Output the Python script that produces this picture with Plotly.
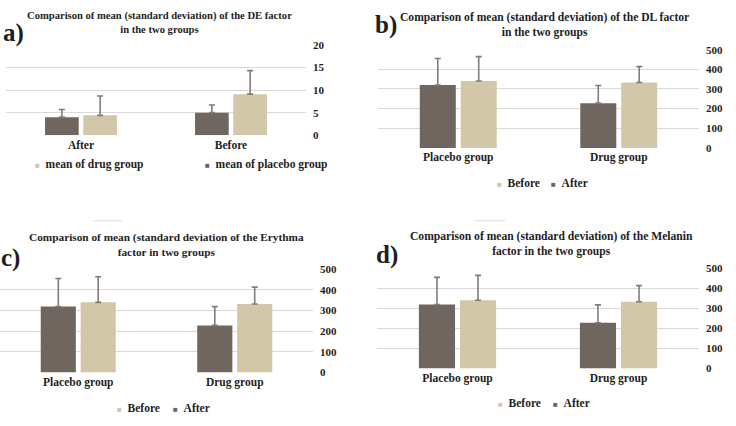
import plotly.graph_objects as go

W, H = 736, 426

# ---------------- data ----------------
de_categories = ["After", "Before"]
de_placebo_mean = [4.0, 5.0]
de_placebo_sd = [1.7, 1.7]
de_drug_mean = [4.4, 9.1]
de_drug_sd = [4.3, 5.2]
de_series_names = ["mean of placebo group", "mean of drug group"]

group_categories = ["Placebo group", "Drug group"]
series_names = ["After", "Before"]

dl_after_mean = [320, 228]
dl_after_sd = [135, 90]
dl_before_mean = [341, 333]
dl_before_sd = [124, 81]

ery_after_mean = [320, 228]
ery_after_sd = [136, 91]
ery_before_mean = [340, 332]
ery_before_sd = [124, 82]

mel_after_mean = [320, 228]
mel_after_sd = [135, 90]
mel_before_mean = [341, 333]
mel_before_sd = [124, 81]

de_ticks = [0, 5, 10, 15, 20]
big_ticks = [0, 100, 200, 300, 400, 500]

titles = [
    "Comparison of mean (standard deviation) of the DE factor<br>in the two groups",
    "Comparison of mean (standard deviation) of the DL factor<br>in the two groups",
    "Comparison of mean (standard deviation of the Erythma<br>factor in two groups",
    "Comparison of mean (standard deviation) of the Melanin<br>factor in the two groups",
]
letters = ["a)", "b)", "c)", "d)"]

# ---------------- style ----------------
DARK = "#6f665f"
LIGHT = "#d2c7a9"
ERR = "#857b74"
TXT = "#1e1e1e"
GRID = "#d9d9d9"
FONT = "Liberation Serif"


def px(x):
    return x / W


def py(y):
    return 1 - y / H


fig = go.Figure()


def add_bars(ax, cats, m1, s1, n1, c1, m2, s2, n2, c2):
    xa = "x" if ax == 1 else f"x{ax}"
    ya = "y" if ax == 1 else f"y{ax}"
    for m, s, n, c in [(m1, s1, n1, c1), (m2, s2, n2, c2)]:
        fig.add_trace(go.Bar(
            x=cats, y=m, name=n, marker_color=c, marker_line_width=0,
            error_y=dict(type="data", symmetric=False, array=s,
                         arrayminus=[0] * len(s), color=ERR,
                         thickness=1.6, width=3),
            xaxis=xa, yaxis=ya, showlegend=False,
        ))


add_bars(1, de_categories, de_placebo_mean, de_placebo_sd, de_series_names[0], DARK,
         de_drug_mean, de_drug_sd, de_series_names[1], LIGHT)
add_bars(2, group_categories, dl_after_mean, dl_after_sd, series_names[0], DARK,
         dl_before_mean, dl_before_sd, series_names[1], LIGHT)
add_bars(3, group_categories, ery_after_mean, ery_after_sd, series_names[0], DARK,
         ery_before_mean, ery_before_sd, series_names[1], LIGHT)
add_bars(4, group_categories, mel_after_mean, mel_after_sd, series_names[0], DARK,
         mel_before_mean, mel_before_sd, series_names[1], LIGHT)

# panel geometry (pixels): x0, x1, ytop, ybottom
panels = [
    (6, 306, 40, 133),
    (378, 699, 45, 146),
    (0, 313, 271, 377),
    (377, 699, 270, 373),
]
ranges = [[0, 20], [0, 500], [0, 500], [0, 500]]
tickv = [de_ticks, big_ticks, big_ticks, big_ticks]

layout = dict(
    width=W, height=H, margin=dict(l=0, r=0, t=0, b=0),
    paper_bgcolor="white", plot_bgcolor="white",
    barmode="group", bargap=0.49, bargroupgap=0.12,
    showlegend=False,
    font=dict(family=FONT, color=TXT),
)
for i, (x0, x1, yt, yb) in enumerate(panels):
    k = "" if i == 0 else str(i + 1)
    layout[f"xaxis{k}"] = dict(
        domain=[px(x0), px(x1)], anchor=f"y{k}", showgrid=False, showline=False,
        zeroline=False, ticks="", tickfont=dict(family=FONT, size=11.5, color=TXT, weight="bold"),
        ticklabelstandoff=1,
    )
    layout[f"yaxis{k}"] = dict(
        domain=[py(yb), py(yt)], anchor=f"x{k}", side="right", range=ranges[i],
        tickvals=tickv[i], showgrid=True, gridcolor=GRID, gridwidth=1,
        zeroline=False, showline=False, ticks="",
        tickfont=dict(family=FONT, size=11, color=TXT, weight="bold"),
        ticklabelstandoff=6,
    )
fig.update_layout(**layout)

# titles
title_pos = [(159, 17), (544, 20), (166, 245), (551, 245)]
title_sizes = [10.6, 11.6, 11.3, 11.6]
for (cx, cy), t, fs in zip(title_pos, titles, title_sizes):
    fig.add_annotation(xref="paper", yref="paper", x=px(cx), y=py(cy), text=f"<b>{t}</b>",
                       showarrow=False, xanchor="center", yanchor="middle",
                       font=dict(family=FONT, size=fs, color=TXT), align="center")

# panel letters
letter_pos = [(1, 28), (373, 20), (-1, 259), (374, 256)]
for (lx, ly), t in zip(letter_pos, letters):
    fig.add_annotation(xref="paper", yref="paper", x=px(lx), y=py(ly), text=f"<b>{t}</b>",
                       showarrow=False, xanchor="left", yanchor="middle",
                       font=dict(family=FONT, size=25, color=TXT))


def legend_item(x, y, color, name):
    fig.add_annotation(
        xref="paper", yref="paper", x=px(x), y=py(y), showarrow=False,
        xanchor="left", yanchor="middle",
        text=f"<span style='color:{color};font-size:8px'>■</span>&nbsp;&nbsp;<b>{name}</b>",
        font=dict(family=FONT, size=11.5, color=TXT),
    )


legend_item(33, 163, LIGHT, de_series_names[1])
legend_item(203, 163, DARK, de_series_names[0])
legend_item(495, 182, LIGHT, series_names[1])
legend_item(549, 182, DARK, series_names[0])
legend_item(115, 414, LIGHT, series_names[1])
legend_item(171, 414, DARK, series_names[0])
legend_item(496, 408, LIGHT, series_names[1])
legend_item(551, 408, DARK, series_names[0])

# faint scan artefact strokes above lower panels
for (a, b) in [(93, 122), (475, 505)]:
    fig.add_shape(type="line", xref="paper", yref="paper", x0=px(a), x1=px(b),
                  y0=py(221), y1=py(221), line=dict(color="#dcdcdc", width=1))

fig.write_html("out.html")
